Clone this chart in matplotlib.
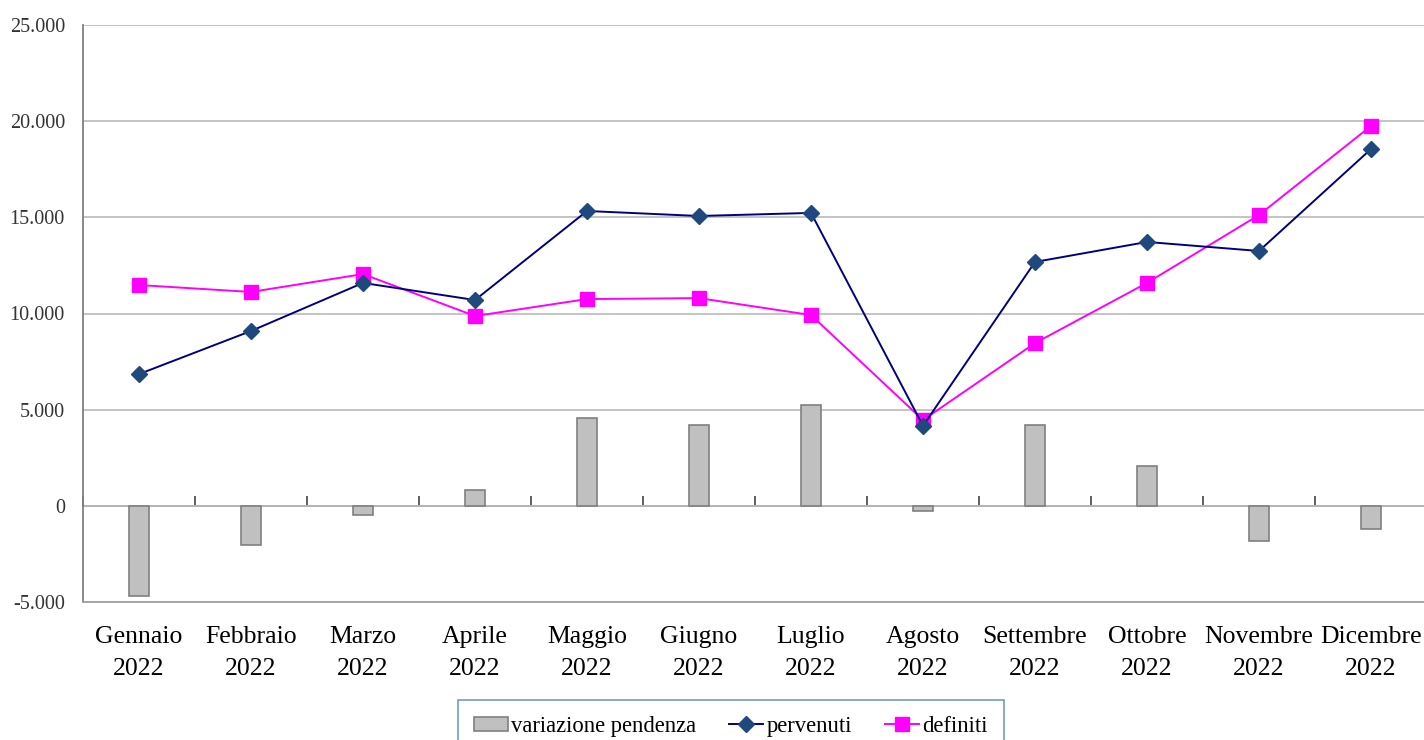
import matplotlib
matplotlib.use("Agg")
import matplotlib.pyplot as plt
from matplotlib.ticker import FuncFormatter
import numpy as np

months = ["Gennaio", "Febbraio", "Marzo", "Aprile", "Maggio", "Giugno",
          "Luglio", "Agosto", "Settembre", "Ottobre", "Novembre", "Dicembre"]
year = "2022"
pervenuti = [6850, 9090, 11590, 10700, 15330, 15070, 15230, 4160, 12680, 13720, 13250, 18550]
definiti = [11480, 11120, 12050, 9870, 10750, 10800, 9920, 4460, 8460, 11590, 15120, 19750]
variazione = [-4680, -2040, -480, 820, 4570, 4200, 5240, -270, 4200, 2070, -1830, -1200]

plt.rcParams['font.family'] = ['Liberation Serif', 'DejaVu Serif']

W, H = 1424, 740
fig = plt.figure(figsize=(W / 100, H / 100), dpi=100)
ax = fig.add_axes([83 / W, 1 - 602 / H, (1427 - 83) / W, (602 - 25) / H])

x = np.arange(len(months))
b = ax.bar(x, variazione, width=0.17, color="#C0C0C0", edgecolor="#808080",
           linewidth=1.2, zorder=2, label="variazione pendenza")
l1, = ax.plot(x, pervenuti, color="#000080", lw=1.4, marker="D", ms=8.5,
              mfc="#1F497D", mec="#1F497D", zorder=4, label="pervenuti")
l2, = ax.plot(x, definiti, color="#FF00FF", lw=1.4, marker="s", ms=10,
              mfc="#FF00FF", mec="#FF00FF", zorder=3, label="definiti")

ax.set_xlim(-0.5, len(months) - 0.5)
ax.set_ylim(-5000, 25000)
ax.set_yticks(np.arange(-5000, 25001, 5000))
ax.yaxis.set_major_formatter(FuncFormatter(lambda v, p: f"{int(v):,}".replace(",", ".")))
ax.yaxis.grid(True, color="#BFBFBF", lw=1.3, zorder=0)
ax.set_axisbelow(True)

ax.set_xticks(x)
ax.set_xticklabels([f"{m}\n{year}" for m in months], linespacing=1.62)
ax.tick_params(axis="x", length=0, pad=17, labelsize=18.5, colors="#000000")
ax.tick_params(axis="y", length=0, pad=13, labelsize=14.5, labelcolor="#333333")

for s in ["top", "right"]:
    ax.spines[s].set_visible(False)
ax.spines["left"].set_color("#808080")
ax.spines["left"].set_linewidth(1.3)
ax.spines["bottom"].set_color("#A0A0A0")
ax.spines["bottom"].set_linewidth(1.3)

# zero axis with category boundary ticks
sec = ax.secondary_xaxis(1 / 6)
sec.set_xticks(np.arange(-0.5, len(months), 1.0))
sec.set_xticklabels([])
for s in ["bottom", "top"]:
    sec.spines[s].set_color("#333333")
    sec.spines[s].set_linewidth(1.2)
sec.tick_params(direction="in", length=7, width=1.1, colors="#333333")

leg = fig.legend(handles=[b, l1, l2], loc="upper left",
                 bbox_to_anchor=(458 / W, 1 - 700 / H), borderaxespad=0,
                 ncol=3, frameon=True, fancybox=False, fontsize=16.3,
                 edgecolor="#4F81BD", handlelength=1.5, handletextpad=0.15,
                 columnspacing=1.45, borderpad=0.7, handleheight=0.6)
leg.get_frame().set_linewidth(1.2)

fig.savefig("out.png", dpi=100)
